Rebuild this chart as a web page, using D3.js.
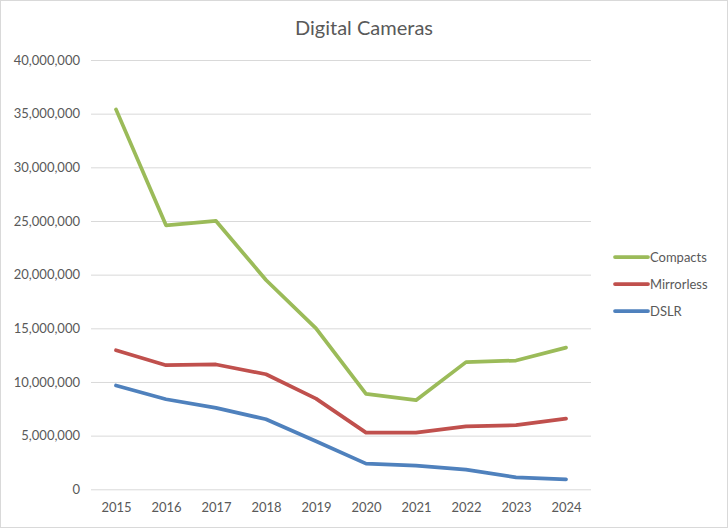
<!DOCTYPE html>
<html>
<head>
<meta charset="utf-8">
<script src="https://cdn.jsdelivr.net/npm/d3@7.9.0/dist/d3.min.js"></script>
<style>
  body { margin: 0; background: #fff; }
  svg { display: block; font-family: Lato, 'Open Sans', sans-serif; }
</style>
</head>
<body>
<svg id="chart" width="728" height="528"></svg>
<script>
const years = ['2015', '2016', '2017', '2018', '2019', '2020', '2021', '2022', '2023', '2024'];
const compacts = [35400000, 24600000, 25000000, 19500000, 15000000, 8900000, 8300000, 11850000, 12000000, 13200000];
const mirrorless = [12960000, 11560000, 11630000, 10720000, 8450000, 5280000, 5280000, 5870000, 5970000, 6590000];
const dslr = [9670000, 8390000, 7580000, 6530000, 4480000, 2390000, 2200000, 1830000, 1120000, 930000];
const seriesNames = ['Compacts', 'Mirrorless', 'DSLR'];
const seriesColors = ['#9bbb59', '#c0504d', '#4f81bd'];
const yTicks = [0, 5000000, 10000000, 15000000, 20000000, 25000000, 30000000, 35000000, 40000000];

const series = [compacts, mirrorless, dslr];
const svg = d3.select('#chart');

// chart border
svg.append('rect')
  .attr('x', 0.5).attr('y', 0.5)
  .attr('width', 727).attr('height', 527)
  .attr('fill', '#fff').attr('stroke', '#d9d9d9');

const x = d3.scalePoint().domain(years).range([91, 591]).padding(0.5);
const y = d3.scaleLinear().domain([0, 40000000]).range([489.3, 60]);

svg.append('text')
  .attr('x', 364).attr('y', 35)
  .attr('text-anchor', 'middle')
  .attr('font-size', 20)
  .attr('fill', '#595959')
  .text('Digital Cameras');

// gridlines + y labels
const yAxis = svg.append('g')
  .attr('transform', 'translate(91,0)')
  .call(d3.axisLeft(y).tickValues(yTicks).tickSize(-500).tickPadding(11)
    .tickFormat(d3.format(',')));
yAxis.select('.domain').remove();
yAxis.selectAll('line').attr('stroke', '#d9d9d9');
yAxis.selectAll('text').attr('fill', '#595959').attr('font-size', 13)
  .attr('font-family', 'Lato, sans-serif');

const xAxis = svg.append('g')
  .attr('transform', 'translate(0,489.3)')
  .call(d3.axisBottom(x).tickSize(0).tickPadding(13));
xAxis.select('.domain').remove();
xAxis.selectAll('text').attr('fill', '#595959').attr('font-size', 13)
  .attr('font-family', 'Lato, sans-serif');

const line = d3.line()
  .x((d, i) => x(years[i]))
  .y((d) => y(d));

series.forEach((values, idx) => {
  svg.append('path')
    .attr('d', line(values))
    .attr('fill', 'none')
    .attr('stroke', seriesColors[idx])
    .attr('stroke-width', 3.75)
    .attr('stroke-linejoin', 'round')
    .attr('stroke-linecap', 'round');
});

// legend
const legend = svg.append('g').attr('transform', 'translate(615,257)');
seriesNames.forEach((name, idx) => {
  const g = legend.append('g').attr('transform', `translate(0,${idx * 27})`);
  g.append('line')
    .attr('x1', 0).attr('x2', 33)
    .attr('stroke', seriesColors[idx])
    .attr('stroke-width', 3.75)
    .attr('stroke-linecap', 'round');
  g.append('text')
    .attr('x', 35).attr('dy', '0.35em')
    .attr('font-size', 13)
    .attr('fill', '#595959')
    .text(name);
});
</script>
</body>
</html>
